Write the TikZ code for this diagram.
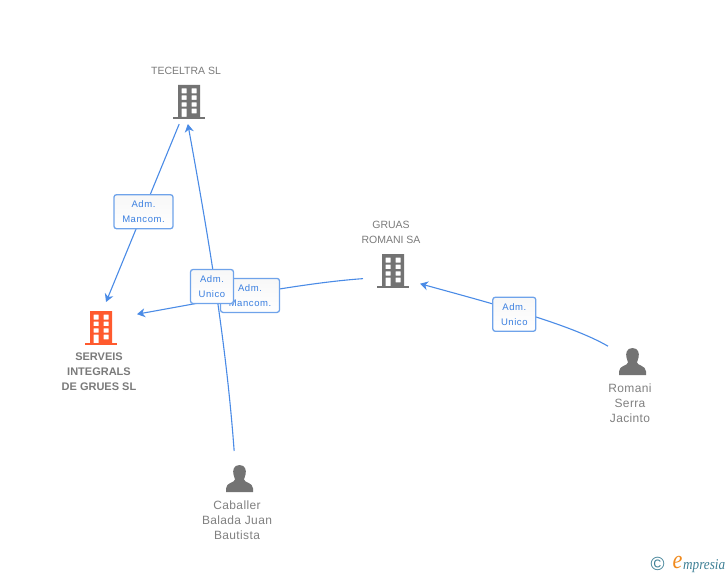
\documentclass[tikz,border=0pt]{standalone}
\usepackage{fontspec}
\setmainfont{Liberation Sans}
\newfontfamily\boxfont[LetterSpace=6]{Liberation Sans}
\newfontfamily\namefont[LetterSpace=3]{Liberation Sans}
\newfontfamily\logofont{Liberation Serif}
\usepackage{tikz}
\usetikzlibrary{arrows.meta,shapes}
\definecolor{edgeblue}{HTML}{4A8BE6}
\definecolor{boxblue}{HTML}{6FA3EA}
\definecolor{roletext}{HTML}{3A7FE0}
\definecolor{iconblack}{HTML}{737373}
\definecolor{iconred}{HTML}{FF5A2E}
\definecolor{logoteal}{HTML}{3D7F95}
\definecolor{logoorange}{HTML}{F08A1D}
\tikzstyle{slot}=[rectangle,inner sep=0pt,outer sep=0pt]
\tikzstyle{firmslot}=[slot,minimum width=44pt,minimum height=44pt]
\tikzstyle{manslot}=[slot,minimum width=49pt,minimum height=55pt]
\tikzstyle{edge}=[draw=edgeblue,line width=1.1pt,-{Stealth[length=8pt,width=9pt,inset=2.5pt]}]
\tikzstyle{role}=[rectangle,rounded corners=2.5pt,draw=boxblue,line width=1.3pt,top color=black!3,bottom color=white,text=roletext,inner sep=0pt,minimum height=34pt,align=center,font=\boxfont\fontsize{9.5}{15}\selectfont]
\tikzstyle{caption}=[inner sep=0pt,align=center,text=black!52,font=\fontsize{10.5}{15}\selectfont]
\tikzstyle{mancaption}=[inner sep=0pt,align=center,text=black!50,font=\namefont\fontsize{12}{15}\selectfont]
\newcommand{\buildingicon}[3]{
  \fill[#3,even odd rule,shift={(#1,#2)}]
    (-11,-17) rectangle (11,15)
    (-7.5,-13.5) rectangle (-2.5,-8.5) (2.5,-13.5) rectangle (7.5,-8.5)
    (-7.5,-6.5) rectangle (-2.5,-2) (2.5,-6.5) rectangle (7.5,-2)
    (-7.5,0.3) rectangle (-2.5,4.7) (2.5,0.3) rectangle (7.5,4.7)
    (-7.5,6.7) rectangle (-2.5,15) (2.5,6.7) rectangle (7.5,11.3);
  \fill[#3,shift={(#1,#2)}] (-16,15) rectangle (16,17);
}
\newcommand{\manicon}[2]{
  \fill[iconblack,shift={(#1,#2)}] (0,-13.5) .. controls (-6,-13.5) and (-7,-8) .. (-6,-4)
    .. controls (-5.5,-2) and (-4.5,-1) .. (-4.5,1) .. controls (-4.5,4) and (-13.5,4) .. (-13.5,10)
    -- (-13.5,13.5) -- (13.5,13.5) -- (13.5,10) .. controls (13.5,4) and (4.5,4) .. (4.5,1)
    .. controls (4.5,-1) and (5.5,-2) .. (6,-4) .. controls (7,-8) and (6,-13.5) .. (0,-13.5) -- cycle;
}

\begin{document}
\begin{tikzpicture}[x=1pt,y=-1pt]
      \useasboundingbox (0,0) rectangle (728,575);
      \buildingicon{189}{102}{iconblack}
      \buildingicon{393}{271}{iconblack}
      \buildingicon{101}{328}{iconred}
      \manicon{239.5}{478.5}
      \manicon{632.5}{361.5}
      \node[firmslot] (teceltra) at (189,102) {};
      \node[firmslot,minimum width=57pt] (gruas) at (391.5,271) {};
      \node[firmslot,minimum width=72pt,minimum height=52pt] (serveis) at (101,328) {};
      \node[manslot] (caballer) at (239.5,478.5) {};
      \node[manslot] (romani) at (632.5,361.5) {};
      \draw[edge] (teceltra.-114) -- (serveis.79);
      \draw[edge] (caballer.101) .. controls (226,340) and (208,235) .. (teceltra.-93);
      \draw[edge] (gruas.195) .. controls (302,283) and (222,299) .. (serveis.21);
      \draw[edge] (romani.148) .. controls (570,324) and (490,303) .. (gruas.-24.5);
      \node[role,minimum width=59pt] (admA) at (143.5,211.7) {Adm.\\Mancom.};
      \node[role,minimum width=59pt] (admB) at (250,295.4) {Adm.\\Mancom.};
      \node[role,minimum width=43pt] (admC) at (212,286.5) {Adm.\\Unico};
      \node[role,minimum width=43pt] (admD) at (514.3,314.3) {Adm.\\Unico};
      \node[caption] (labelT) at (186,71) {TECELTRA SL};
      \node[caption] (labelG) at (391,232.5) {GRUAS\\ROMANI SA};
      \node[caption,font=\bfseries\fontsize{11}{15}\selectfont] (labelS) at (99,372) {SERVEIS\\INTEGRALS\\DE GRUES SL};
      \node[mancaption] (labelC) at (237,520) {Caballer\\Balada Juan\\Bautista};
      \node[mancaption] (labelR) at (630,403) {Romani\\Serra\\Jacinto};
      \node[inner sep=0pt,text=logoteal,font=\fontsize{19}{19}\selectfont] (logoC) at (657.5,563.5) {©};
      \node[inner sep=0pt,xscale=.85,text=logoorange,font=\logofont\itshape\fontsize{26}{26}\selectfont,anchor=base] (logoE) at (677.5,568) {e};
      \node[inner sep=0pt,xscale=.88,text=logoteal,font=\logofont\itshape\fontsize{15}{15}\selectfont,anchor=base west] (logoM) at (683,569) {mpresia};
    \end{tikzpicture}
\end{document}
